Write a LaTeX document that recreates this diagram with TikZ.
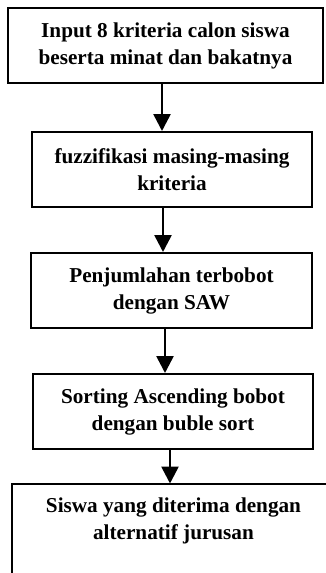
\documentclass[tikz,border=0pt]{standalone}
\usepackage{fontspec}
\setmainfont{Liberation Serif}
\usetikzlibrary{arrows.meta, positioning, calc}
\tikzset{
  process/.style = {rectangle, draw=black, line width=1pt,
                    minimum height=37.5pt, inner ysep=7pt,
                    align=center, font=\fontsize{10.6pt}{13.5pt}\selectfont\bfseries},
  ->/.style      = {line width=1.3pt, -{Triangle[length=8.5pt,width=8.5pt]}}
}

\begin{document}
\begin{tikzpicture}[x=1pt, y=1pt]

\useasboundingbox (0,0) rectangle (163,-286.5);
\clip (0,0) rectangle (163,-286.5);

% Input
\node[process, minimum width=157.5pt
] at (82.75, -22.75) (input) {
    Input 8 kriteria calon siswa\\beserta minat dan bakatnya
};

\node[process, minimum width=140pt, anchor=north
] at ($(input.south) + (3.25pt, -23.5pt)$) (fuzzy) {
    fuzzifikasi masing-masing\\kriteria
};

\draw[->] ([xshift=-1.75pt]input.south) -- ([xshift=-1.75pt]input.south |- fuzzy.north);

\node[process, minimum width=140.5pt, anchor=north
] at ($(fuzzy.south) + (-0.25pt, -22pt)$) (saw) {
    Penjumlahan terbobot\\dengan SAW
};

\draw[->] ([xshift=-4.5pt]fuzzy.south) -- ([xshift=-4.5pt]fuzzy.south |- saw.north);

\node[process, minimum width=140pt, anchor=north
] at ($(saw.south) + (0.75pt, -22pt)$) (sorting) {
    Sorting Ascending bobot\\dengan buble sort
};

\draw[->] ([xshift=-3.25pt]saw.south) -- ([xshift=-3.25pt]saw.south |- sorting.north);

% Output, box runs off the page on the right and bottom
\node[process, draw=none, outer sep=0pt, minimum width=162pt, minimum height=0pt, text depth=26pt, anchor=north west
] at (5.75, -241.75) (hasil) {
    Siswa yang diterima dengan\\alternatif jurusan
};

\draw[line width=1pt] (hasil.south west) |- ([xshift=40pt]hasil.north east);

\draw[->] ([xshift=-1.5pt]sorting.south) -- ([xshift=-1.5pt]sorting.south |- hasil.north);

\end{tikzpicture}
\end{document}
